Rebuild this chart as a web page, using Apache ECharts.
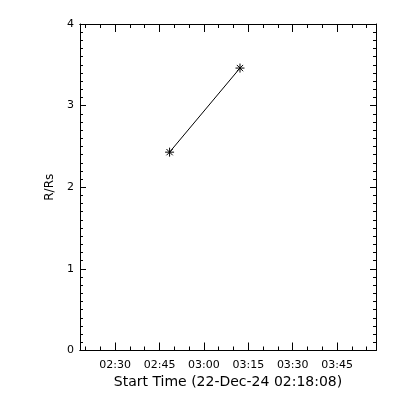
<!DOCTYPE html>
<html><head><meta charset="utf-8">
<script src="https://cdn.jsdelivr.net/npm/echarts@6/dist/echarts.min.js"></script>
<style>html,body{margin:0;padding:0;background:#fff}#c{width:400px;height:400px}</style>
</head><body><div id="c"></div>
<script>
// ---- data ----
const startTime = '02:18:08';
const endTime = '03:58:08';
const pointTimes = ['02:48:24', '03:12:11'];
const radii = [2.43, 3.46];
const majorTickLabels = ['02:30', '02:45', '03:00', '03:15', '03:30', '03:45'];
const minorTickTimes = ['02:20','02:25','02:30','02:35','02:40','02:45','02:50','02:55',
  '03:00','03:05','03:10','03:15','03:20','03:25','03:30','03:35','03:40','03:45','03:50','03:55'];
const yMin = 0, yMax = 4, yStep = 1;
const xTitle = 'Start Time (22-Dec-24 02:18:08)';
const yTitle = 'R/Rs';

// ---- helpers ----
function toSec(t) {
  const p = t.split(':').map(Number);
  return p[0] * 3600 + p[1] * 60 + (p[2] || 0);
}
function fmt(v) {
  const h = Math.floor(v / 3600), m = Math.round((v - h * 3600) / 60);
  return String(h).padStart(2, '0') + ':' + String(m).padStart(2, '0');
}
const xMin = toSec(startTime), xMax = toSec(endTime);
const majorVals = majorTickLabels.map(toSec);
const minorVals = minorTickTimes.map(toSec);
const seriesData = pointTimes.map((t, i) => [toSec(t), radii[i]]);

const FONT = 'DejaVu Sans';
const black = '#000';
function xAx(pos, vals, len, labels) {
  return {
    type: 'value', gridIndex: 0, position: pos, min: xMin, max: xMax,
    splitLine: { show: false },
    axisLine: { show: true, onZero: false, lineStyle: { color: black, width: 1 } },
    axisTick: { show: true, inside: true, length: len, customValues: vals, lineStyle: { color: black, width: 1 } },
    axisLabel: labels ? {
      show: true, customValues: vals, formatter: fmt, color: black,
      fontFamily: FONT, fontSize: 11, margin: 9
    } : { show: false },
    name: labels ? xTitle : '',
    nameLocation: 'middle', nameGap: 24,
    nameTextStyle: { color: black, fontFamily: FONT, fontSize: 14 }
  };
}
function yAx(pos, labels) {
  return {
    type: 'value', gridIndex: 0, position: pos, min: yMin, max: yMax, interval: yStep,
    splitLine: { show: false },
    axisLine: { show: true, onZero: false, lineStyle: { color: black, width: 1 } },
    axisTick: { show: true, inside: true, length: 6, lineStyle: { color: black, width: 1 } },
    minorTick: { show: true, splitNumber: 10, length: 3, lineStyle: { color: black, width: 1 } },
    minorSplitLine: { show: false },
    axisLabel: labels ? { show: true, color: black, fontFamily: FONT, fontSize: 11, margin: 6 } : { show: false },
    name: labels ? yTitle : '',
    nameLocation: 'middle', nameGap: 23,
    nameTextStyle: { color: black, fontFamily: FONT, fontSize: 12 }
  };
}

const chart = echarts.init(document.getElementById('c'), null, { renderer: 'canvas' });
chart.setOption({
  animation: false,
  backgroundColor: '#fff',
  grid: { left: 80, right: 24, top: 24, bottom: 49.5, containLabel: false },
  xAxis: [
    xAx('bottom', majorVals, 8, true),
    xAx('bottom', minorVals, 4, false),
    xAx('top', majorVals, 8, false),
    xAx('top', minorVals, 4, false)
  ],
  yAxis: [yAx('left', true), yAx('right', false)],
  series: [{
    type: 'line', xAxisIndex: 0, yAxisIndex: 0,
    data: seriesData,
    symbol: 'path://M0 5 L10 5 M5 0 L5 10 M1.5 1.5 L8.5 8.5 M1.5 8.5 L8.5 1.5',
    symbolSize: 9,
    itemStyle: { color: black, borderColor: black, borderWidth: 1 },
    lineStyle: { color: black, width: 1 },
    emphasis: { disabled: true }
  }]
});
</script>
</body></html>
